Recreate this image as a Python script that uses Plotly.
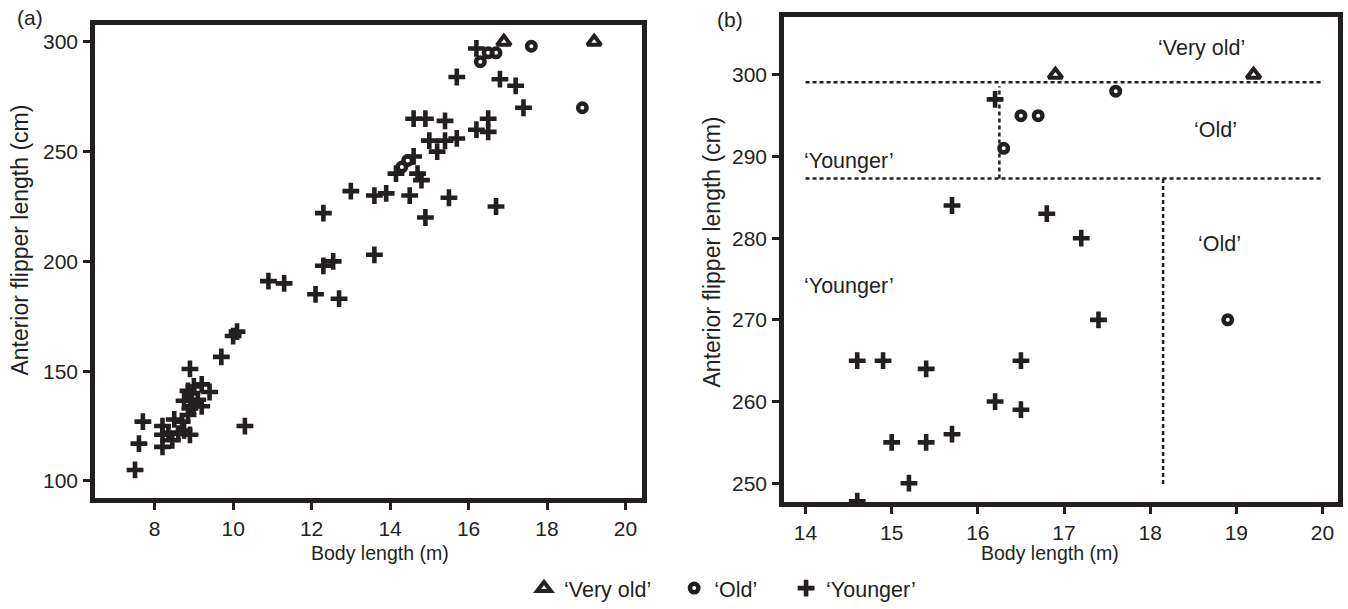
import plotly.graph_objects as go

# ---------------- data ----------------
# 'Very old'
very_old_x = [16.9, 19.2]
very_old_y = [300, 300]

# 'Old'
old_x = [17.6, 16.5, 16.7, 16.3, 18.9, 14.3, 14.45]
old_y = [298, 295, 295, 291, 270, 243, 246]

# 'Younger'
younger_x = [16.2, 15.7, 16.8, 17.2, 17.4, 14.6, 14.9, 15.4, 16.5, 16.2, 16.5,
             15.0, 15.4, 15.7, 15.2, 14.6,
             14.15, 14.7, 14.8, 13.0, 13.6, 13.9, 14.5, 15.5, 16.7, 14.9, 12.3,
             13.6, 12.55, 12.3, 10.9, 11.3, 12.1, 12.7, 10.0, 10.1, 9.7,
             8.9, 9.0, 9.2, 9.4, 8.85, 8.75, 9.1, 9.2, 8.9, 8.85, 8.7, 8.5,
             8.2, 8.35, 8.6, 8.9, 8.45, 8.75, 8.2, 7.7, 7.6, 8.2, 7.5, 10.3,
             9.0, 8.95]
younger_y = [297, 284, 283, 280, 270, 265, 265, 264, 265, 260, 259,
             255, 255, 256, 250, 247.8,
             240, 240, 237, 232, 230, 231, 230, 229, 225, 220, 222,
             203, 200, 198, 191, 190, 185, 183, 166, 168, 156.5,
             151, 143, 144, 140.5, 141, 136.5, 137, 134, 133, 130, 127, 128,
             125, 122, 121.5, 121, 118.5, 123, 121, 127, 117, 115.5, 105, 125,
             134, 140]

# group boundaries drawn in panel (b)
very_old_limit = 299.1
old_limit = 287.3
split_x_upper = 16.25
split_x_lower = 18.15
lower_line_bottom = 249.9
line_x_start = 14.0
line_x_end = 20.0

group_names = ["\u2018Very old\u2019", "\u2018Old\u2019", "\u2018Younger\u2019"]
legend_pad = ["\u00a0\u00a0\u00a0", "\u00a0\u00a0\u00a0\u00a0", ""]

# ---------------- style ----------------
DARK = "#231f20"
FONT = "Liberation Sans, Arial, Helvetica, sans-serif"
W, H = 1348, 609

def px_x(p):
    return p / W

def px_y(p):
    return 1 - p / H

marker_styles = [
    dict(symbol="triangle-up-open", size=12, color=DARK, line=dict(width=4, color=DARK)),
    dict(symbol="circle-open", size=8.5, color=DARK, line=dict(width=4.5, color=DARK)),
    dict(symbol="cross-thin", size=12, color=DARK, line=dict(width=4.6, color=DARK)),
]
series = [(very_old_x, very_old_y), (old_x, old_y), (younger_x, younger_y)]

fig = go.Figure()
for panel, (xa, ya) in enumerate([("x", "y"), ("x2", "y2")]):
    for i, (xs, ys) in enumerate(series):
        fig.add_trace(go.Scatter(
            x=xs, y=ys, mode="markers", name=group_names[i] + legend_pad[i],
            marker=marker_styles[i], xaxis=xa, yaxis=ya,
            showlegend=(panel == 0), legendgroup=group_names[i],
        ))

axis_common = dict(
    showline=True, mirror=True, linewidth=4.5, linecolor=DARK,
    ticks="outside", ticklen=7, tickwidth=2.5, tickcolor=DARK,
    ticklabelstandoff=1,
    showgrid=False, zeroline=False,
    tickfont=dict(family=FONT, size=21, color=DARK),
)

fig.update_layout(
    width=W, height=H,
    margin=dict(l=0, r=0, t=0, b=0),
    paper_bgcolor="white", plot_bgcolor="white",
    font=dict(family=FONT, size=20, color=DARK),
    xaxis=dict(domain=[px_x(95), px_x(642)], range=[6.48, 20.42],
               tickvals=[8, 10, 12, 14, 16, 18, 20], anchor="y", **axis_common),
    yaxis=dict(domain=[px_y(503), px_y(25)], range=[92.2, 307.8],
               tickvals=[100, 150, 200, 250, 300], anchor="x", **axis_common),
    xaxis2=dict(domain=[px_x(784), px_x(1338)], range=[13.75, 20.18],
                tickvals=[14, 15, 16, 17, 18, 19, 20], anchor="y2", **axis_common),
    yaxis2=dict(domain=[px_y(507), px_y(17)], range=[247.7, 307.1],
                tickvals=[250, 260, 270, 280, 290, 300], anchor="x2", **axis_common),
    legend=dict(orientation="h", x=px_x(524), xanchor="left", y=px_y(594), yanchor="middle",
                font=dict(family=FONT, size=21.5, color=DARK), bgcolor="rgba(0,0,0,0)"),
    showlegend=True,
)

dash_line = dict(color=DARK, width=2.5, dash="4px,3px")
shapes = [
    dict(type="line", xref="x2", yref="y2", x0=line_x_start, x1=line_x_end,
         y0=very_old_limit, y1=very_old_limit, line=dash_line),
    dict(type="line", xref="x2", yref="y2", x0=line_x_start, x1=line_x_end,
         y0=old_limit, y1=old_limit, line=dash_line),
    dict(type="line", xref="x2", yref="y2", x0=split_x_upper, x1=split_x_upper,
         y0=old_limit, y1=very_old_limit - 0.5, line=dash_line),
    dict(type="line", xref="x2", yref="y2", x0=split_x_lower, x1=split_x_lower,
         y0=lower_line_bottom, y1=old_limit, line=dash_line),
]
fig.update_layout(shapes=shapes)

ann = []
def paper_text(text, cx, cy, size, angle=0):
    return dict(text=text, xref="paper", yref="paper", x=px_x(cx), y=px_y(cy),
                xanchor="center", yanchor="middle", textangle=angle,
                showarrow=False, font=dict(size=size))

# panel labels
ann.append(paper_text("(a)", 30, 18, 21))
ann.append(paper_text("(b)", 730, 20, 21))
# axis titles
for cx in [380, 1050]:
    ann.append(paper_text("Body length (m)", cx, 558, 19.5))
for cx, cy in [(20, 243), (712, 255)]:
    ann.append(paper_text("Anterior flipper length (cm)", cx, cy, 23, angle=-90))
# region labels in panel (b)
region_labels = [
    ("\u2018Very old\u2019", 18.59, 303.3),
    ("\u2018Old\u2019", 18.76, 293.3),
    ("\u2018Younger\u2019", 14.51, 289.4),
    ("\u2018Old\u2019", 18.8, 279.3),
    ("\u2018Younger\u2019", 14.51, 274.1),
]
for t, x, y in region_labels:
    ann.append(dict(text=t, xref="x2", yref="y2", x=x, y=y, xanchor="center",
                    yanchor="middle", showarrow=False, font=dict(size=21.5)))
fig.update_layout(annotations=ann)

fig.write_html("out.html", config={"displayModeBar": False},
               post_script="document.body.style.margin='0';document.body.style.padding='0';")
